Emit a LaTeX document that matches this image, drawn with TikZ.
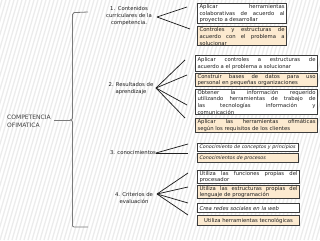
\documentclass[tikz,border=0pt]{standalone}
\usepackage{fontspec}
\setmainfont{DejaVu Sans}
\definecolor{boxc}{HTML}{3C3C3C}
\definecolor{beige}{HTML}{FCEAD0}
\definecolor{txt}{HTML}{1E1E1E}
\definecolor{linec}{HTML}{222222}
\definecolor{bracec}{HTML}{7A7A7A}
\definecolor{stripe}{HTML}{ECECEC}
\newcommand\bxfont{\fontsize{5.3}{6.6}\selectfont\hyphenpenalty=10000\exhyphenpenalty=10000}
\newcommand\smfont{\fontsize{4.8}{6.6}\selectfont}
\newcommand\lbfont{\fontsize{5.3}{7}\selectfont}
\tikzset{
  wb/.style={draw=boxc, line width=1.1pt, fill=white, anchor=north west,
    inner xsep=2pt, inner ysep=0.6pt, font=\bxfont, text=txt, align=justify},
  bb/.style={wb, fill=beige},
  conn/.style={draw=linec, line width=0.75pt},
  lab/.style={font=\lbfont, text=txt, align=center, inner sep=0pt},
  bracestyle/.style={draw=bracec, line width=0.8pt},
}
\begin{document}
\begin{tikzpicture}[x=1pt,y=-1pt]
\useasboundingbox (0,0) rectangle (320,240);
\fill[white] (0,0) rectangle (320,240);
\begin{scope}
\clip (0,0) rectangle (320,240);
\foreach \i in {-80,-76,...,320} {
  \draw[stripe, line width=1.3pt] (\i,240) -- (\i+70,0);
}
\end{scope}

% main label and brace
\node[font=\fontsize{6}{8}\selectfont, text=txt!85, align=left, anchor=west, inner sep=0pt] (main) at (7,121) {COMPETENCIA\\OFIMATICA};
\coordinate (bt) at (88,12);
\coordinate (bb) at (88,227);
\coordinate (bm) at (70,120);
\draw[bracestyle] (bt) -- (74,12.6) .. controls (72.8,12.7) and (72.5,13.2) .. (72.5,14.5) -- (72.5,118) .. controls (72.5,119.5) and (71.5,120) .. (bm);
\draw[bracestyle] (bm) .. controls (71.5,120) and (72.5,120.5) .. (72.5,122) -- (72.5,226) .. controls (72.5,226.8) and (73,227) .. (74,227) -- (bb);
\draw[bracestyle] ([xshift=3pt]main.east |- bm) -- (bm);

% group labels
\node[lab] (l1) at (129,16) {1.\enspace Contenidos\\curriculares de la\\competencia.};
\node[lab] (l2) at (131,88.5) {2. Resultados de\\aprendizaje};
\node[lab] (l3) at (133,153) {3. conocimientos};
\node[lab] (l4) at (134,198) {4. Criterios de\\evaluación};

% boxes group 1
\node[wb, text width=85pt, minimum height=20pt] (b1) at (197,3) {Aplicar herramientas\linebreak colaborativas de acuerdo al\linebreak proyecto a desarrollar};
\node[bb, minimum height=0pt] (b2) at (197,26) {\parbox[t][17.8pt][t]{85pt}{\bxfont\baselineskip=7pt Controles y estructuras de\linebreak acuerdo con el problema a\linebreak solucionar}};

% boxes group 2
\node[wb, text width=118pt, minimum height=16pt] (b3) at (195,55) {Aplicar controles a estructuras de\linebreak acuerdo a el problema a solucionar};
\node[bb, text width=118pt, minimum height=13pt] (b4) at (195,73) {Construir bases de datos para uso\linebreak personal en pequeñas organizaciones};
\node[wb, text width=118pt, minimum height=25pt] (b5) at (195,89) {Obtener la información requerido\linebreak utilizando herramientas de trabajo de\linebreak las tecnologías información y\linebreak comunicación};
\node[bb, text width=118pt, minimum height=14pt] (b6) at (195,118) {Aplicar las herramientas ofimáticas\linebreak según los requisitos de los clientes};

% boxes group 3
\node[wb, text width=97pt, minimum height=7.5pt, align=left, font=\smfont] (b7) at (197,143) {\itshape Conocimiento de conceptos y principios};
\node[bb, text width=97pt, minimum height=8.5pt, align=left, font=\smfont] (b8) at (197,153) {\itshape Conocimientos de procesos};

% boxes group 4
\node[wb, text width=98pt, minimum height=13pt] (b9) at (197,170) {Utiliza las funciones propias del\linebreak procesador};
\node[bb, text width=98pt, minimum height=13pt] (b10) at (197,185) {Utiliza las estructuras propias del\linebreak lenguaje de programación};
\node[wb, text width=98pt, minimum height=9pt, align=left] (b11) at (197,203) {\itshape Crea redes sociales en la web};
\node[bb, text width=98pt, minimum height=10pt, align=center] (b12) at (197,215) {Utiliza herramientas tecnológicas};

% fan points and ends
\coordinate (f1) at (157,17);
\coordinate (e1a) at (187,7);
\coordinate (e1b) at (190,29);
\draw[conn] (f1) -- (e1a);
\draw[conn] (f1) -- (e1b);

\coordinate (f2) at (156,88);
\coordinate (e2a) at (185,60);
\coordinate (e2b) at (187,75);
\coordinate (e2c) at (187,105);
\coordinate (e2d) at (185,118);
\foreach \e in {e2a,e2b,e2c,e2d} \draw[conn] (f2) -- (\e);

\coordinate (f3) at (156,153);
\coordinate (e3a) at (188,144);
\coordinate (e3b) at (188,153);
\draw[conn] (f3) -- (e3a);
\draw[conn] (f3) -- (e3b);

\coordinate (f4) at (157,194);
\coordinate (e4a) at (188,173);
\coordinate (e4b) at (188,187);
\coordinate (e4c) at (188,203);
\coordinate (e4d) at (188,215);
\foreach \e in {e4a,e4b,e4c,e4d} \draw[conn] (f4) -- (\e);
\end{tikzpicture}
\end{document}
